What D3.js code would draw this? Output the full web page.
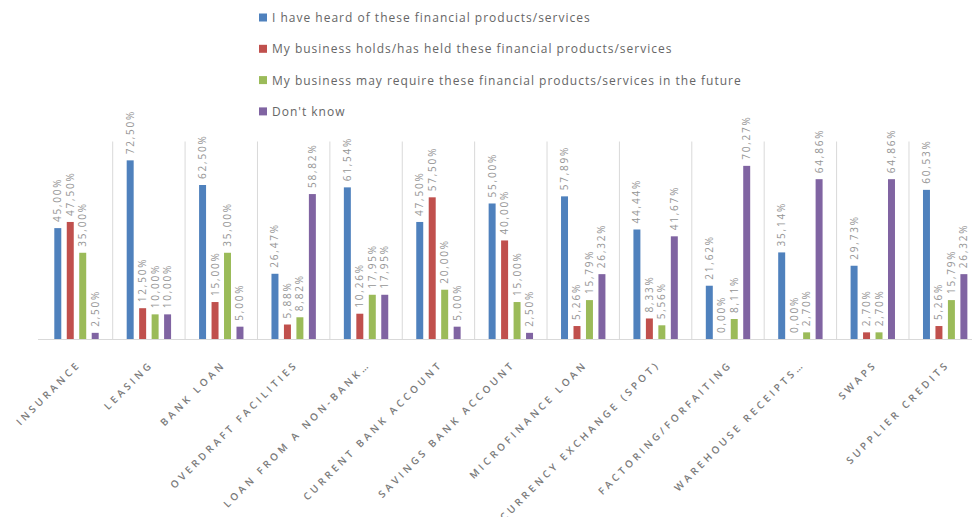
<!DOCTYPE html>
<html>
<head>
<meta charset="utf-8">
<script src="https://cdn.jsdelivr.net/npm/d3@7"></script>
<style>
  html, body { margin: 0; padding: 0; background: #fff; }
  svg { display: block; font-family: "Open Sans", sans-serif; }
</style>
</head>
<body>
<svg id="chart" width="972" height="517"></svg>
<script>
const categories = [
  "INSURANCE", "LEASING", "BANK LOAN", "OVERDRAFT FACILITIES",
  "LOAN FROM A NON-BANK…", "CURRENT BANK ACCOUNT", "SAVINGS BANK ACCOUNT",
  "MICROFINANCE LOAN", "CURRENCY EXCHANGE (SPOT)", "FACTORING/FORFAITING",
  "WAREHOUSE RECEIPTS…", "SWAPS", "SUPPLIER CREDITS"
];
const seriesNames = [
  "I have heard of these financial products/services",
  "My business holds/has held these financial products/services",
  "My business may require these financial products/services in the future",
  "Don't know"
];
const heard    = [45.00, 72.50, 62.50, 26.47, 61.54, 47.50, 55.00, 57.89, 44.44, 21.62, 35.14, 29.73, 60.53];
const holds    = [47.50, 12.50, 15.00,  5.88, 10.26, 57.50, 40.00,  5.26,  8.33,  0.00,  0.00,  2.70,  5.26];
const require_ = [35.00, 10.00, 35.00,  8.82, 17.95, 20.00, 15.00, 15.79,  5.56,  8.11,  2.70,  2.70, 15.79];
const dontKnow = [ 2.50, 10.00,  5.00, 58.82, 17.95,  5.00,  2.50, 26.32, 41.67, 70.27, 64.86, 64.86, 26.32];
const seriesValues = [heard, holds, require_, dontKnow];
const colors = ["#4f81bd", "#c0504d", "#9bbb59", "#8064a2"];

const svg = d3.select("#chart");
const catW = 72.39;
const x0 = 40.3;
const baseY = 339;

const x = d3.scaleBand().domain(categories).range([x0, x0 + catW * categories.length]).paddingInner(0).paddingOuter(0);
const xi = d3.scaleBand().domain(d3.range(4)).range([14, catW - 14]).paddingInner(0.44).paddingOuter(0);
const y = d3.scaleLinear().domain([0, 100]).range([baseY, baseY - 246.4]);

// separators
svg.append("g").selectAll("line").data(categories.slice(1)).join("line")
  .attr("x1", d => x(d)).attr("x2", d => x(d))
  .attr("y1", 141.5).attr("y2", baseY)
  .attr("stroke", "#d9d9d9").attr("stroke-width", 1);

// baseline
svg.append("line").attr("x1", 38).attr("x2", 972).attr("y1", baseY + 0.5).attr("y2", baseY + 0.5)
  .attr("stroke", "#d9d9d9").attr("stroke-width", 1.2);

// bars + labels
const fmt = v => v.toFixed(2).replace(".", ",") + "%";
seriesValues.forEach((vals, s) => {
  const g = svg.append("g");
  g.selectAll("rect").data(vals).join("rect")
    .attr("x", (d, i) => x(categories[i]) + xi(s))
    .attr("width", xi.bandwidth())
    .attr("y", d => y(d))
    .attr("height", d => baseY - y(d))
    .attr("fill", colors[s]);
  g.selectAll("text").data(vals).join("text")
    .attr("transform", (d, i) => `translate(${x(categories[i]) + xi(s) + xi.bandwidth() / 2 + 3.5},${y(d) - 6}) rotate(-90)`)
    .attr("font-size", 10)
    .attr("letter-spacing", 1.8)
    .attr("fill", "#959595")
    .text(d => fmt(d));
});

// category labels
svg.append("g").selectAll("text").data(categories).join("text")
  .attr("transform", d => `translate(${x(d) + catW / 2 + 5},${baseY + 26}) rotate(-45)`)
  .attr("text-anchor", "end")
  .attr("font-size", 10)
  .attr("font-weight", 600)
  .attr("letter-spacing", 3.3)
  .attr("fill", "#7a7a7a")
  .text(d => d);

// legend
const leg = svg.append("g");
seriesNames.forEach((name, i) => {
  const yy = 17.5 + i * 31.3;
  leg.append("rect").attr("x", 259).attr("y", yy - 4).attr("width", 8).attr("height", 8).attr("fill", colors[i]);
  leg.append("text").attr("x", 272).attr("y", yy + 4.5)
    .attr("font-size", 12).attr("letter-spacing", 1).attr("fill", "#666")
    .text(name);
});
</script>
</body>
</html>
